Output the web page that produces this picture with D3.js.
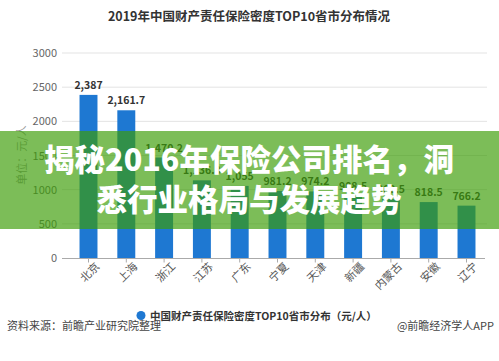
<!DOCTYPE html>
<html><head><meta charset="utf-8">
<script src="https://cdn.jsdelivr.net/npm/d3@7"></script>
<style>
html,body{margin:0;padding:0;background:#fff;}
svg{display:block;font-family:"Noto Sans CJK SC","Noto Sans",sans-serif;}
</style></head>
<body>
<svg id="c" width="499" height="361"></svg>
<script>
const categories = ["北京","上海","浙江","江苏","广东","宁夏","天津","新疆","内蒙古","安徽","辽宁"];
const values = [2387, 2161.7, 1470.2, 1136.8, 1055, 981.2, 974.2, 908.5, 862.5, 818.5, 766.2];
const yTicks = [0, 500, 1000, 1500, 2000, 2500, 3000];
const title = "2019年中国财产责任保险密度TOP10省市分布情况";
const legendLabel = "中国财产责任保险密度TOP10省市分布（元/人）";
const unitLabel = "单位：元/人";
const sourceLabel = "资料来源：前瞻产业研究院整理";
const creditLabel = "@前瞻经济学人APP";
const bannerLines = ["揭秘2016年保险公司排名，洞", "悉行业格局与发展趋势"];

const svg = d3.select("#c");
const W = 499, H = 361;
const x = d3.scaleBand().domain(categories).range([69.6, 485.4]).paddingInner(0.525).paddingOuter(0.2625);
const y = d3.scaleLinear().domain([0, 3000]).range([258, 53]);
const fmt = v => (Number.isInteger(v) ? d3.format(",")(v) : d3.format(",.1f")(v));

// title
svg.append("text").attr("x", 249).attr("y", 20.5).attr("text-anchor", "middle")
  .attr("font-size", 12.5).attr("font-weight", "bold").attr("fill", "#333").text(title);

// gridlines
svg.append("g").selectAll("line").data(yTicks.filter(d => d > 0)).join("line")
  .attr("x1", 62).attr("x2", 487).attr("y1", d => y(d)).attr("y2", d => y(d))
  .attr("stroke", "#e3e3e3").attr("stroke-width", 1);

// y axis labels
const yAxis = d3.axisLeft(y).tickValues(yTicks).tickSize(0).tickPadding(0).tickFormat(d3.format("d"));
const gy = svg.append("g").attr("transform", "translate(57,0)").call(yAxis);
gy.select(".domain").remove();
gy.selectAll("text").attr("font-size", 11).attr("fill", "#666").attr("font-family", "'Noto Sans CJK SC',sans-serif");

// unit label
svg.append("text").attr("transform", "translate(26,155) rotate(-90)").attr("text-anchor", "middle")
  .attr("font-size", 11).attr("fill", "#999").text(unitLabel);

// x axis
const xAxis = d3.axisBottom(x).tickSize(4).tickSizeOuter(0).tickPadding(4);
const gx = svg.append("g").attr("transform", "translate(0,258.5)").call(xAxis);
gx.select(".domain").attr("stroke", "#aaa").attr("d", "M62,0H485");
gx.selectAll(".tick line").attr("stroke", "#aaa");
gx.selectAll("text").attr("font-size", 11).attr("fill", "#555")
  .attr("text-anchor", "end").attr("dx", "0.2em").attr("dy", "0.6em")
  .attr("transform", "rotate(-45)").attr("font-family", "'Noto Sans CJK SC',sans-serif");

// bars
svg.append("g").selectAll("rect").data(values).join("rect")
  .attr("x", (d, i) => x(categories[i])).attr("width", x.bandwidth())
  .attr("y", d => y(d)).attr("height", d => y(0) - y(d)).attr("fill", "#1e78d2");

// value labels
svg.append("g").selectAll("text").data(values).join("text")
  .attr("x", (d, i) => x(categories[i]) + x.bandwidth() / 2).attr("y", d => y(d) - 6)
  .attr("text-anchor", "middle").attr("font-size", 10.5).attr("font-weight", "bold")
  .attr("fill", "#333").text(d => fmt(d));

// legend
svg.append("circle").attr("cx", 141).attr("cy", 315.5).attr("r", 4.5).attr("fill", "#1e78d2");
svg.append("text").attr("x", 150).attr("y", 319.5).attr("font-size", 10.5).attr("fill", "#333")
  .attr("font-weight", "bold").text(legendLabel);

// footer
svg.append("text").attr("x", 7).attr("y", 330).attr("font-size", 11).attr("fill", "#444").text(sourceLabel);
svg.append("text").attr("x", 494).attr("y", 330).attr("text-anchor", "end").attr("font-size", 11).attr("fill", "#444").text(creditLabel);

// banner overlay
svg.append("rect").attr("x", 0).attr("y", 131).attr("width", W).attr("height", 98)
  .attr("fill", "rgb(60,157,6)").attr("fill-opacity", 0.67);
const bt = svg.append("g").attr("font-size", 30.5).attr("font-weight", 900).attr("fill", "#fff")
  .attr("text-anchor", "middle");
bannerLines.forEach((t, i) => {
  bt.append("text").attr("x", 249).attr("y", 171 + i * 40).text(t);
});
</script>
</body></html>
